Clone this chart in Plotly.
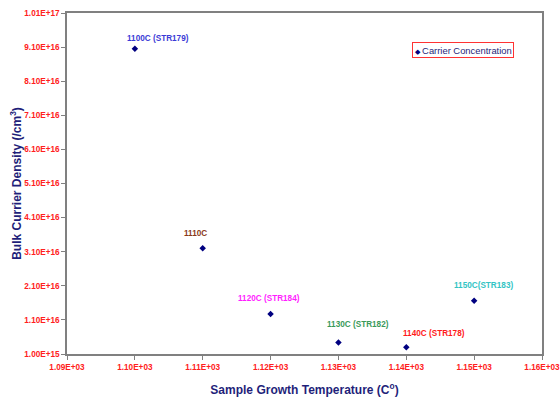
import plotly.graph_objects as go

# Growth temperature (deg C) and measured bulk carrier density (/cm^3)
temperature = [1100, 1110, 1120, 1130, 1140, 1150]
carrier_density = [9.05e16, 3.2e16, 1.27e16, 4.4e15, 3.0e15, 1.66e16]
sample_labels = ["1100C (STR179)", "1110C", "1120C (STR184)",
                 "1130C (STR182)", "1140C (STR178)", "1150C(STR183)"]
label_colors = ["#3b3bd6", "#8b3a1a", "#ff1fff", "#3a9a5a", "#ff1a1a", "#33c4c4"]
# label offsets in pixels relative to each point
label_dx = [23, -7, -2, 20, 28, 9]
label_dy = [10, 15, 16, 18, 14, 15]

# axis ticks
x_tickvals = [1090, 1100, 1110, 1120, 1130, 1140, 1150, 1160]
y_tickvals = [1.0e15, 1.1e16, 2.1e16, 3.1e16, 4.1e16, 5.1e16,
              6.1e16, 7.1e16, 8.1e16, 9.1e16, 1.01e17]
x_ticktext = ["%.2E" % v for v in x_tickvals]
y_ticktext = ["%.2E" % v for v in y_tickvals]

FONT = "Arial, Liberation Sans, sans-serif"
NAVY = "#000080"
TITLE_NAVY = "#1f1f7a"
TICK_RED = "#ff2020"
AXIS_GRAY = "#808080"

fig = go.Figure()
fig.add_trace(go.Scatter(
    x=temperature, y=carrier_density, mode="markers",
    name="Carrier Concentration",
    marker=dict(symbol="diamond", size=5, color=NAVY),
    showlegend=False,
))

for xv, yv, txt, col, dx, dy in zip(temperature, carrier_density, sample_labels,
                                   label_colors, label_dx, label_dy):
    fig.add_annotation(x=xv, y=yv, text="<b>%s</b>" % txt, showarrow=False,
                       xshift=dx, yshift=dy,
                       font=dict(family=FONT, size=8.2, color=col))

# compact legend box
fig.add_annotation(
    xref="paper", yref="paper", x=0.726, y=0.916, xanchor="left", yanchor="top",
    text="<span style='color:%s;font-size:7px'>◆</span> Carrier Concentration" % NAVY,
    showarrow=False, align="left",
    font=dict(family=FONT, size=9.4, color=TITLE_NAVY),
    bordercolor="#ff3333", borderwidth=1, borderpad=1.5, bgcolor="white",
)

axis_common = dict(
    showgrid=False, zeroline=False, showline=True, linecolor=AXIS_GRAY,
    linewidth=1.5, mirror=True, ticks="outside", ticklen=4, tickcolor=AXIS_GRAY,
    tickfont=dict(family=FONT, size=8.2, color=TICK_RED, weight="bold"),
    tickmode="array", automargin=False, ticklabeloverflow="allow",
)

fig.update_xaxes(range=[1090, 1160], tickvals=x_tickvals, ticktext=x_ticktext,
                 title=dict(text="<b>Sample Growth Temperature (C<sup>o</sup>)</b>",
                            font=dict(family=FONT, size=12, color=TITLE_NAVY),
                            standoff=16),
                 **axis_common)
fig.update_yaxes(range=[1e15, 1.01e17], tickvals=y_tickvals, ticktext=y_ticktext,
                 title=dict(text="<b>Bulk Currier Density (/cm<sup>3</sup>)</b>",
                            font=dict(family=FONT, size=12, color=TITLE_NAVY),
                            standoff=0),
                 **axis_common)

fig.update_layout(
    width=560, height=397,
    margin=dict(l=67, r=18, t=13, b=43),
    paper_bgcolor="white", plot_bgcolor="white",
)

fig.write_html("out.html")
